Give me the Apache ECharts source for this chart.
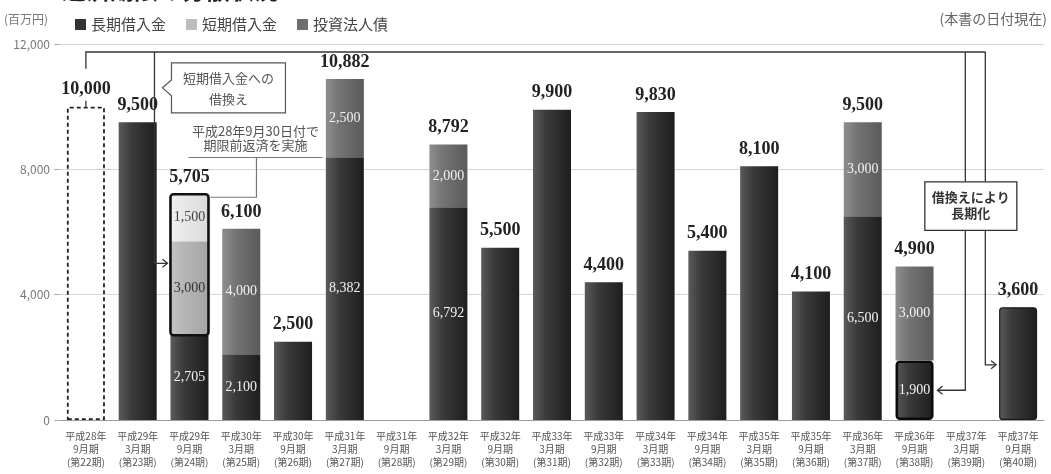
<!DOCTYPE html>
<html>
<head>
<meta charset="utf-8">
<script src="https://cdn.jsdelivr.net/npm/echarts@6/dist/echarts.min.js"></script>
<style>
  html, body { margin: 0; padding: 0; background: #fff; }
  #chart { width: 1051px; height: 474px; }
</style>
</head>
<body>
<div id="chart"></div>
<script>
// Fiscal periods (category axis)
const periods = ['第22期','第23期','第24期','第25期','第26期','第27期','第28期','第29期','第30期','第31期',
                 '第32期','第33期','第34期','第35期','第36期','第37期','第38期','第39期','第40期'];
const years = ['平成28年','平成29年','平成29年','平成30年','平成30年','平成31年','平成31年','平成32年','平成32年','平成33年',
               '平成33年','平成34年','平成34年','平成35年','平成35年','平成36年','平成36年','平成37年','平成37年'];
const months = ['9月期','3月期','9月期','3月期','9月期','3月期','9月期','3月期','9月期','3月期',
                '9月期','3月期','9月期','3月期','9月期','3月期','9月期','3月期','9月期'];

// Amounts in millions of yen
const repaidEarly = [10000, null, null, null, null, null, null, null, null, null, null, null, null, null, null, null, null, null, null];
const longTerm    = [null, 9500, 2705, 2100, 2500, 8382, null, 6792, 5500, 9900, 4400, 9830, 5400, 8100, 4100, 6500, 1900, null, 3600];
const shortTerm   = [null, null, 3000, null, null, null, null, null, null, null, null, null, null, null, null, null, null, null, null];
const refinanced  = [null, null, 1500, null, null, null, null, null, null, null, null, null, null, null, null, null, null, null, null];
const bonds       = [null, null, null, 4000, null, 2500, null, 2000, null, null, null, null, null, null, null, 3000, 3000, null, null];
const yTickValues = [0, 4000, 8000, 12000];

const BAR_W = 38;
const SERIF = '"Liberation Serif", "DejaVu Serif", serif';
const SANS = '"Noto Sans CJK JP", "Noto Sans", sans-serif';
const fmt = v => Number(v).toLocaleString('en-US');

// Stated total per period (repaid + long + short + bonds)
const totals = periods.map((_, i) => {
  const parts = [repaidEarly[i], longTerm[i], shortTerm[i], bonds[i]].filter(v => v != null);
  return parts.length ? parts.reduce((a, b) => a + b, 0) : null;
});

const grad = (c0, c1, c2) => new echarts.graphic.LinearGradient(0, 0, 1, 0, [
  { offset: 0, color: c0 }, { offset: 0.35, color: c1 }, { offset: 1, color: c2 }
]);
const DARK = grad('#5a5a5a', '#3a3a3a', '#1e1e1e');
const MID = grad('#8e8e8e', '#747474', '#5a5a5a');
const LIGHT = grad('#c4c4c4', '#b6b6b6', '#a4a4a4');
const PALE = grad('#f0f0f0', '#e8e8e8', '#dadada');

const innerLabel = color => ({
  show: true, position: 'inside', color: color,
  fontFamily: SERIF, fontSize: 14,
  formatter: p => fmt(p.value)
});

// Periods whose long-term bar carries an inner figure
const labelledLong = new Set(periods.map((_, i) => i).filter(i =>
  [shortTerm[i], refinanced[i], bonds[i]].some(v => v != null)));
const emphasised = { 16: { borderColor: '#0a0a0a', borderWidth: 2.6, borderRadius: 3 },
                     18: { borderColor: '#1a1a1a', borderWidth: 1.2, borderRadius: 3 } };

const longData = longTerm.map((v, i) => {
  if (v == null) return null;
  const item = { value: v, label: { show: labelledLong.has(i) } };
  if (emphasised[i]) item.itemStyle = Object.assign({ color: DARK }, emphasised[i]);
  return item;
});

// Outline around the short-term refinanced block
const outlineRanges = periods.map((_, i) => i)
  .filter(i => refinanced[i] != null)
  .map(i => [i, longTerm[i], longTerm[i] + shortTerm[i] + refinanced[i]]);

const chart = echarts.init(document.getElementById('chart'), null, { renderer: 'canvas' });

chart.setOption({
  animation: false,
  backgroundColor: '#fff',
  textStyle: { fontFamily: SANS },
  grid: { left: 60, right: 7, top: 44, bottom: 54, containLabel: false },
  legend: {
    left: 70, top: 12, icon: 'rect', itemWidth: 11, itemHeight: 11, itemGap: 20,
    textStyle: { fontSize: 15, color: '#444', fontFamily: SANS },
    data: [
      { name: '長期借入金', itemStyle: { color: '#333' } },
      { name: '短期借入金', itemStyle: { color: '#bdbdbd' } },
      { name: '投資法人債', itemStyle: { color: '#6e6e6e' } }
    ],
    selectedMode: false
  },
  xAxis: {
    type: 'category', data: periods,
    axisTick: { show: false },
    axisLine: { lineStyle: { color: '#9a9a9a', width: 1.2 } },
    axisLabel: {
      interval: 0, margin: 10, fontSize: 10, lineHeight: 13, color: '#555', fontFamily: SANS,
      formatter: (v, i) => years[i] + '\n' + months[i] + '\n(' + v + ')'
    }
  },
  yAxis: {
    type: 'value', min: yTickValues[0], max: yTickValues[yTickValues.length - 1],
    interval: yTickValues[1] - yTickValues[0],
    axisLine: { show: false },
    axisTick: { show: true, length: 6, lineStyle: { color: '#b0b0b0' } },
    axisLabel: { margin: 10, fontSize: 12, color: '#777', fontFamily: SANS, formatter: v => fmt(v) },
    splitLine: { lineStyle: { color: '#d6d6d6', width: 1 } }
  },
  series: [
    {
      name: '期限前返済', type: 'bar', stack: 'main', barWidth: BAR_W,
      data: repaidEarly,
      itemStyle: { color: 'rgba(255,255,255,0)', borderColor: '#222', borderWidth: 1.8, borderType: [4, 3] }
    },
    {
      name: '長期借入金', type: 'bar', stack: 'main', barWidth: BAR_W,
      data: longData, itemStyle: { color: DARK },
      label: innerLabel('#f2f2f2')
    },
    {
      name: '短期借入金', type: 'bar', stack: 'main', barWidth: BAR_W,
      data: shortTerm, itemStyle: { color: LIGHT },
      label: innerLabel('#333')
    },
    {
      name: '短期借入金(借換分)', type: 'bar', stack: 'main', barWidth: BAR_W,
      data: refinanced, itemStyle: { color: PALE },
      label: innerLabel('#444')
    },
    {
      name: '投資法人債', type: 'bar', stack: 'main', barWidth: BAR_W,
      data: bonds, itemStyle: { color: MID },
      label: innerLabel('#f2f2f2')
    },
    {
      // zero-height cap that carries the total figure above each stack
      name: '合計', type: 'bar', stack: 'main', barWidth: BAR_W,
      data: totals.map(t => (t == null ? null : 0)),
      itemStyle: { color: 'rgba(0,0,0,0)' },
      label: {
        show: true, position: 'top', distance: 8,
        fontFamily: SERIF, fontWeight: 'bold', fontSize: 18, color: '#222',
        formatter: p => fmt(totals[p.dataIndex])
      }
    },
    {
      name: '借換枠', type: 'custom', z: 5,
      data: outlineRanges,
      encode: { x: 0, y: [1, 2] },
      renderItem: (params, api) => {
        const lo = api.coord([api.value(0), api.value(1)]);
        const hi = api.coord([api.value(0), api.value(2)]);
        return {
          type: 'rect',
          shape: { x: lo[0] - BAR_W / 2, y: hi[1], width: BAR_W, height: lo[1] - hi[1], r: 3 },
          style: { fill: 'none', stroke: '#111', lineWidth: 2.6 }
        };
      }
    }
  ]
});

// Annotations anchored to the axes
const px = (i, v) => chart.convertToPixel({ gridIndex: 0 }, [i, v]);
const X = i => px(i, 0)[0];
const Y = v => px(0, v)[1];
const LINE = { stroke: '#333', lineWidth: 1.3, fill: 'none' };
const seg = pts => ({ type: 'polyline', shape: { points: pts }, style: LINE, z: 10 });
const chevron = (tx, ty, dir) => seg([[tx - 5 * dir, ty - 4], [tx, ty], [tx - 5 * dir, ty + 4]]);

const half = BAR_W / 2;
const topY = Y(12000) + 8;
const x0 = X(0);
const xShort = X(2) - 35;
const xA = X(17) - 1;
const xB = X(17) + 19;
const yShort = Y(5000);
const yA = Y(950);
const yB = Y(1760);
const boxTop = Y(longTerm[2] + shortTerm[2] + refinanced[2]);

const graphics = [
  // Title (runs off the top edge)
  { type: 'text', left: 62, top: -22.5, z: 10,
    style: { text: '返済期限の分散状況', fontSize: 24, fontWeight: 'bold', fill: '#222', fontFamily: SANS } },
  { type: 'text', left: 4, top: 13, z: 10,
    style: { text: '(百万円)', fontSize: 12, fill: '#777', fontFamily: SANS } },
  { type: 'text', right: 4, top: 12, z: 10,
    style: { text: '(本書の日付現在)', fontSize: 14, fill: '#666', fontFamily: SANS } },

  // Refinancing paths from the early repayment
  seg([[x0, Y(10000) - 38], [x0, topY], [xB, topY]]),
  seg([[x0, Y(10000) - 6], [x0, Y(10000)]]),
  seg([[xShort, topY], [xShort, yShort], [X(2) - half - 3, yShort]]),
  chevron(X(2) - half - 3, yShort, 1),
  seg([[xA, topY], [xA, yA], [X(16) + half + 4, yA]]),
  chevron(X(16) + half + 4, yA, -1),
  seg([[xB, topY], [xB, yB], [X(18) - half - 3, yB]]),
  chevron(X(18) - half - 3, yB, 1),

  // Callout: 短期借入金への借換え
  { type: 'polygon', z: 11,
    shape: { points: [
      [X(2) - 18, Y(11400)], [X(2) + 96, Y(11400)], [X(2) + 96, Y(9800)], [X(2) - 18, Y(9800)],
      [X(2) - 18, Y(10350)], [X(2) - 27, Y(10600)], [X(2) - 18, Y(10850)]
    ] },
    style: { fill: '#fff', stroke: '#555', lineWidth: 1.2 } },
  { type: 'text', z: 12, x: X(2) + 39, y: Y(10900),
    style: { text: '短期借入金への', fontSize: 13, fill: '#555', align: 'center', verticalAlign: 'middle', fontFamily: SANS } },
  { type: 'text', z: 12, x: X(2) + 39, y: Y(10250),
    style: { text: '借換え', fontSize: 13, fill: '#555', align: 'center', verticalAlign: 'middle', fontFamily: SANS } },

  // Note on the early repayment date
  { type: 'text', z: 12, x: X(2) + 66, y: 131,
    style: { text: '平成28年9月30日付で', fontSize: 13, fill: '#555', align: 'center', verticalAlign: 'middle', fontFamily: SANS } },
  { type: 'text', z: 12, x: X(2) + 66, y: 145,
    style: { text: '期限前返済を実施', fontSize: 13, fill: '#555', align: 'center', verticalAlign: 'middle', fontFamily: SANS } },
  { type: 'polyline', z: 10, shape: { points: [[X(2) - 1, 157.5], [X(2) + 133, 157.5]] }, style: { stroke: '#777', lineWidth: 1.2 } },
  { type: 'polyline', z: 10, shape: { points: [[X(2) + 67, 157.5], [X(2) + 67, boxTop + 3], [X(2) + half + 2, boxTop + 3]] },
    style: { stroke: '#777', lineWidth: 1.2, fill: 'none' } },

  // Callout: 借換えにより長期化
  { type: 'rect', z: 11,
    shape: { x: X(17) - 41.5, y: Y(7600), width: 92, height: Y(6050) - Y(7600) },
    style: { fill: '#fff', stroke: '#333', lineWidth: 1.3 } },
  { type: 'text', z: 12, x: X(17) + 4.5, y: Y(7100),
    style: { text: '借換えにより', fontSize: 13, fontWeight: 'bold', fill: '#333', align: 'center', verticalAlign: 'middle', fontFamily: SANS } },
  { type: 'text', z: 12, x: X(17) + 4.5, y: Y(6600),
    style: { text: '長期化', fontSize: 13, fontWeight: 'bold', fill: '#333', align: 'center', verticalAlign: 'middle', fontFamily: SANS } }
];

chart.setOption({ graphic: graphics });
</script>
</body>
</html>
